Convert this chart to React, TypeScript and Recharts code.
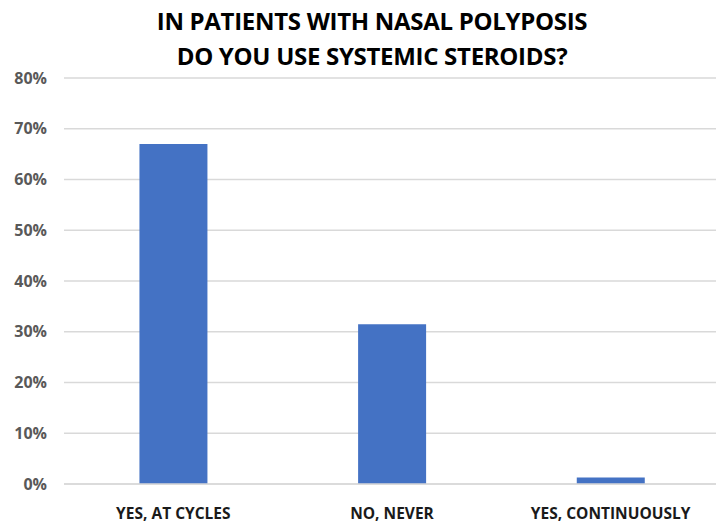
import { BarChart, Bar, XAxis, YAxis, CartesianGrid } from "recharts";

// answers and share of respondents (%)
const categories = ["YES, AT CYCLES", "NO, NEVER", "YES, CONTINUOUSLY"];
const shares = [67, 31.5, 1.3];
const yTicks = [0, 10, 20, 30, 40, 50, 60, 70, 80];
const titleLines = ["IN PATIENTS WITH NASAL POLYPOSIS", "DO YOU USE SYSTEMIC STEROIDS?"];

const data = categories.map((name, i) => ({ name, share: shares[i] }));

const font = "'Open Sans', 'Liberation Sans', sans-serif";

const App = () => {
  return (
    <div style={{ position: "absolute", left: 0, top: 0, width: 716, height: 529, background: "#fff" }}>
      <div
        style={{
          position: "absolute",
          left: 0,
          top: 3,
          width: 744,
          textAlign: "center",
          fontFamily: font,
          fontWeight: 700,
          fontSize: 24,
          lineHeight: "35px",
          letterSpacing: -0.3,
          color: "#000",
        }}
      >
        {titleLines.map((t) => (
          <div key={t}>{t}</div>
        ))}
      </div>
      <BarChart
        width={716}
        height={529}
        data={data}
        margin={{ top: 78, right: -4, left: 0, bottom: 15 }}
        barCategoryGap="34.5%"
      >
        <CartesianGrid vertical={false} stroke="#d9d9d9" strokeWidth={1.5} />
        <XAxis
          dataKey="name"
          height={30}
          axisLine={{ stroke: "#d9d9d9", strokeWidth: 1.5 }}
          tickLine={false}
          tick={{ fill: "#1a1a1a", fontSize: 15.5, fontWeight: 700, fontFamily: font }}
          dy={16}
        />
        <YAxis
          width={64}
          domain={[0, 80]}
          ticks={yTicks}
          interval={0}
          axisLine={false}
          tickLine={false}
          tickFormatter={(v) => `${v}%`}
          tick={{ fill: "#595959", fontSize: 16, fontWeight: 700, fontFamily: font }}
          dx={-9}
        />
        <Bar dataKey="share" fill="#4472c4" isAnimationActive={false} />
      </BarChart>
    </div>
  );
};

export default App;
